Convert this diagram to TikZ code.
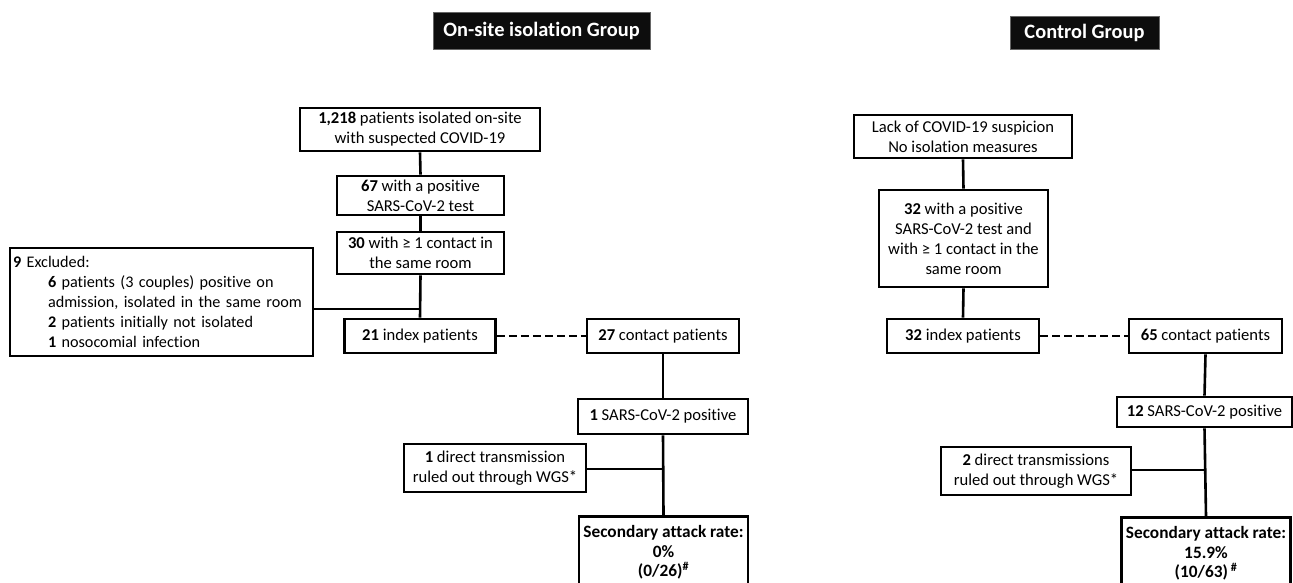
\documentclass[tikz,border=0pt]{standalone}
\usepackage{fontspec}
\setmainfont{Carlito}[Ligatures={NoCommon}]
\begin{document}
\begin{tikzpicture}[x=1pt,y=-1pt,
  box/.style={draw, line width=2.6pt, fill=white, align=center, inner sep=2pt,
    font=\fontsize{16.6}{20}\selectfont},
  sbox/.style={box, font=\fontsize{17.3}{19.5}\selectfont\bfseries},
  title/.style={fill=black!95, draw=black!60, line width=0.5pt, text=white,
    font=\fontsize{20.4}{22}\selectfont\bfseries, inner sep=0pt},
  conn/.style={line width=2.6pt},
  dconn/.style={line width=2.6pt, dash pattern=on 8pt off 4pt}]
\clip (0,0) rectangle (1293,582);
\fill[white] (0,0) rectangle (1293,582);

% titles
\node[title, minimum width=217pt, minimum height=37pt] (t1) at (541.5,30.5) {On-site isolation Group};
\node[title, minimum width=149pt, minimum height=33pt] (t2) at (1084.5,32.5) {Control Group};

% left column
\node[box, minimum width=240pt, minimum height=43pt] (A) at (420,129.5) {\textbf{1,218} patients isolated on-site\\with suspected COVID-19};
\node[box, minimum width=167pt, minimum height=39pt] (B) at (420.5,195.5) {\textbf{67} with a positive\\SARS-CoV-2 test};
\node[box, minimum width=167pt, minimum height=42pt] (C) at (420.5,253) {\textbf{30} with ≥ 1 contact in\\the same room};
\node[box, minimum width=303pt, minimum height=108pt, align=left, text width=297pt,
  font=\fontsize{16.2}{20}\selectfont] (ex) at (161.5,302)
  {\textbf{9} Excluded:\\
   \hspace*{35pt}\textbf{6} patients (3 couples) positive on\\
   \hspace*{35pt}admission, isolated in the same room\\
   \hspace*{35pt}\textbf{2} patients initially not isolated\\
   \hspace*{35pt}\textbf{1} nosocomial infection};
\node[box, minimum width=151pt, minimum height=34pt] (i1) at (420,336) {\textbf{21} index patients};
\node[box, minimum width=152pt, minimum height=34pt] (c1) at (663,336) {\textbf{27} contact patients};
\node[box, minimum width=170pt, minimum height=35pt] (p1) at (663,416.5) {\textbf{1} SARS-CoV-2 positive};
\node[box, minimum width=182pt, minimum height=48pt] (w1) at (495,468) {\textbf{1} direct transmission\\ruled out through WGS*};
\node[sbox, minimum width=169pt, minimum height=72pt, anchor=north] (s1) at (663.5,515)
  {Secondary attack rate:\\0\%\\(0/26)\textsuperscript{\#}};
\coordinate (j1) at (420.5,309);
\coordinate (k1) at (663,469);

% right column
\node[box, minimum width=218pt, minimum height=43pt] (L) at (963,136.5) {Lack of COVID-19 suspicion\\No isolation measures};
\node[box, minimum width=169pt, minimum height=97pt] (P) at (963.5,238.5) {\textbf{32} with a positive\\SARS-CoV-2 test and\\with ≥ 1 contact in the\\same room};
\node[box, minimum width=152pt, minimum height=34pt] (i2) at (963,336) {\textbf{32} index patients};
\node[box, minimum width=153pt, minimum height=34pt] (c2) at (1205.5,336) {\textbf{65} contact patients};
\node[box, minimum width=175pt, minimum height=30pt] (p2) at (1204.5,412) {\textbf{12} SARS-CoV-2 positive};
\node[box, minimum width=190pt, minimum height=48pt] (w2) at (1036,471) {\textbf{2} direct transmissions\\ruled out through WGS*};
\node[sbox, minimum width=169pt, minimum height=72pt, anchor=north] (s2) at (1206,516)
  {Secondary attack rate:\\15.9\%\\(10/63)\,\textsuperscript{\#}};
\coordinate (k2) at (1205,470);

% connectors left
\draw[conn] (A.south) -- (B.north);
\draw[conn] (B.south) -- (C.north);
\draw[conn] (C.south) -- (i1.north);
\draw[conn] (ex.east |- j1) -- (j1);
\draw[dconn] (i1.east) -- (c1.west);
\draw[conn] (c1.south) -- (p1.north);
\draw[conn] (p1.south) -- (s1.north);
\draw[conn] (w1.east |- k1) -- (k1);

% connectors right
\draw[conn] (L.south) -- (P.north);
\draw[conn] (P.south) -- (i2.north);
\draw[dconn] (i2.east) -- (c2.west);
\draw[conn] (c2.south) -- (p2.north);
\draw[conn] (p2.south) -- (s2.north);
\draw[conn] (w2.east |- k2) -- (k2);
\end{tikzpicture}
\end{document}
